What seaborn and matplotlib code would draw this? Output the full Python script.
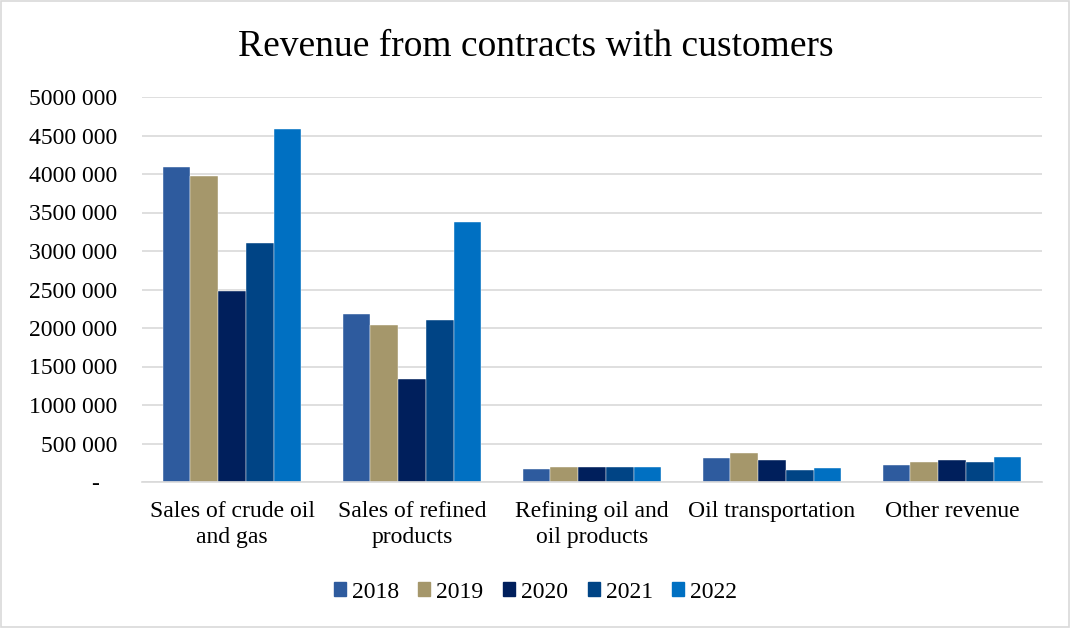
import matplotlib
matplotlib.use("Agg")
import matplotlib.pyplot as plt
import matplotlib.ticker as mticker
from matplotlib.patches import Rectangle
import pandas as pd
import seaborn as sns

categories = [
    "Sales of crude oil\nand gas",
    "Sales of refined\nproducts",
    "Refining oil and\noil products",
    "Oil transportation",
    "Other revenue",
]
years = ["2018", "2019", "2020", "2021", "2022"]
rev_2018 = [4095000, 2178000, 165000, 308000, 220000]
rev_2019 = [3970000, 2043000, 191000, 380000, 256000]
rev_2020 = [2485000, 1342000, 190000, 280000, 280000]
rev_2021 = [3100000, 2104000, 192000, 160000, 262000]
rev_2022 = [4590000, 3373000, 193000, 178000, 325000]
colors = ["#2E5B9E", "#A5976B", "#001F5C", "#004485", "#0070C2"]

series = [rev_2018, rev_2019, rev_2020, rev_2021, rev_2022]
rows = []
for yr, vals in zip(years, series):
    for cat, v in zip(categories, vals):
        rows.append({"category": cat, "year": yr, "revenue": v})
df = pd.DataFrame(rows)

sns.set_theme(style="white")
plt.rcParams["font.family"] = ["Liberation Serif", "DejaVu Serif"]
plt.rcParams["text.color"] = "#000000"

fig = plt.figure(figsize=(10.71, 6.28), dpi=100)
ax = fig.add_axes([142 / 1071, 1 - 482 / 628, 900 / 1071, 385 / 628])

sns.barplot(
    data=df, x="category", y="revenue", hue="year", hue_order=years,
    palette=colors, order=categories, width=0.77, saturation=1,
    edgecolor="#FFFFFF", linewidth=0.3, ax=ax, legend=False,
)

ax.set_ylim(0, 5000000)
ax.set_xlim(-0.5, len(categories) - 0.5)
ax.yaxis.set_major_locator(mticker.MultipleLocator(500000))


def fmt(v, pos):
    if v == 0:
        return "-   "
    s = f"{int(v):,}".replace(",", " ")
    head, tail = s[:-4], s[-3:]
    return f"{head.replace(' ', '')} {tail}" if head else s


ax.yaxis.set_major_formatter(mticker.FuncFormatter(fmt))
ax.grid(axis="y", color="#D9D9D9", linewidth=1.2)
ax.set_axisbelow(True)
for side in ["left", "right", "top"]:
    ax.spines[side].set_visible(False)
ax.spines["bottom"].set_color("#D9D9D9")
ax.spines["bottom"].set_linewidth(1.2)
ax.tick_params(axis="both", length=0, labelsize=17, colors="#000000")
ax.tick_params(axis="y", pad=18)
ax.tick_params(axis="x", pad=14)
for lbl in ax.get_xticklabels():
    lbl.set_linespacing(1.3)
ax.set_xlabel("")
ax.set_ylabel("")

fig.text(0.5, 1 - 47 / 628, "Revenue from contracts with customers",
         ha="center", va="center", fontsize=27, color="#000000")

handles = [Rectangle((0, 0), 1, 1, color=c) for c in colors]
fig.legend(handles, years, loc="center", bbox_to_anchor=(0.5, 1 - 592 / 628),
           ncol=5, frameon=False, fontsize=17, handlelength=0.51,
           handleheight=0.51, handletextpad=0.25, columnspacing=0.83)

fig.patches.append(Rectangle((0.001, 0.001), 0.997, 0.997, transform=fig.transFigure,
                             fill=False, edgecolor="#D9D9D9", linewidth=1.2))

fig.savefig("out.png", dpi=100)
